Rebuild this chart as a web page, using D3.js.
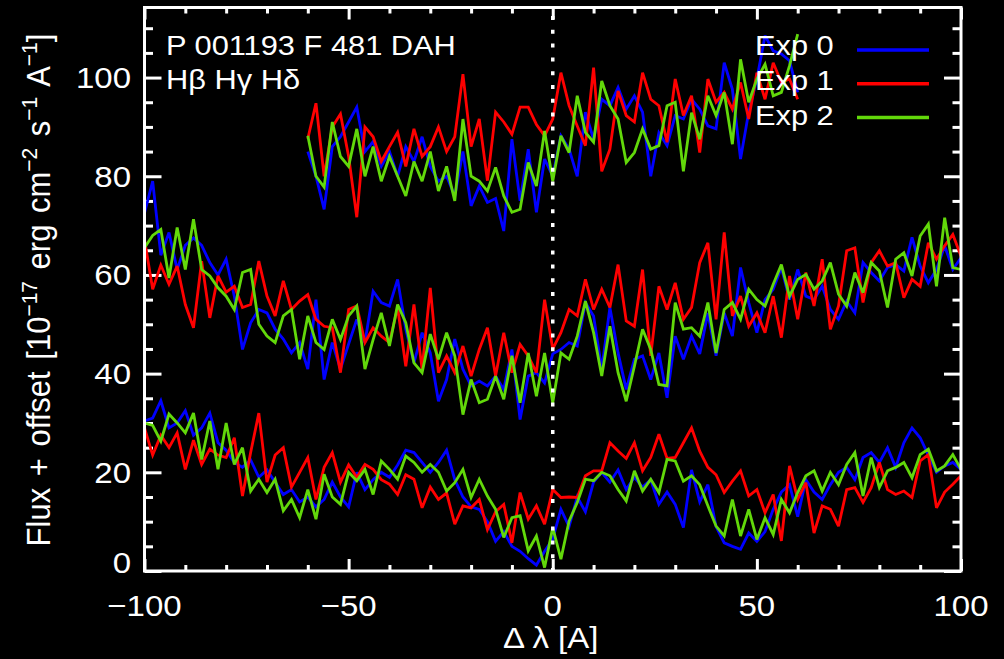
<!DOCTYPE html>
<html>
<head>
<meta charset="utf-8">
<script src="https://cdn.jsdelivr.net/npm/d3@7"></script>
<style>
  html, body { margin: 0; padding: 0; background: #000; }
  svg { display: block; background: #000; }
  text { font-family: "Liberation Sans", Arial, Helvetica, sans-serif; fill: #fff; }
</style>
</head>
<body>
<svg id="chart"></svg>
<script>
// sampling of the three line windows (delta lambda in A)
const dlamFull = d3.range(-100, 101, 2);
const dlamHb = d3.range(-60, 61, 2);

// H delta window (bottom), flux + offset, one array per exposure
const hdelta0 = [30.4, 31, 34.5, 29, 30, 32.5, 27.5, 29, 32, 26,
  24.5, 22, 21, 22.5, 19, 20.5, 18, 15.5, 16.5, 14,
  15, 13, 14.5, 18, 15, 13, 20, 16.5, 18.5, 20,
  19, 21.5, 24.5, 24, 22, 20, 22, 24.5, 18.5, 15,
  13, 12.5, 10, 6, 8, 5, 4, 2.5, 1.2, 4,
  6.5, 12.5, 9, 15, 12, 18, 20, 18, 20.5, 16.5,
  19, 17, 18.5, 13.5, 16, 13.5, 8.8, 20.5, 14, 17.5,
  9, 5.7, 5, 4.4, 7.7, 6, 8, 12.5, 16, 17.5,
  11, 18.5, 16, 14.5, 17.5, 20, 21, 18.5, 23, 24,
  22, 25, 21, 26, 29, 27, 23.5, 20, 21.3, 22,
  20.6];
const hdelta1 = [29, 23.5, 27.5, 25, 28, 20.6, 26.5, 21.6, 24.7, 23.5,
  23, 27, 15.2, 24, 32, 18, 23.5, 25, 17, 20,
  23, 14.5, 21, 24, 18, 21.5, 19, 21.6, 20.6, 18.5,
  17.6, 15.5, 19.5, 18.6, 12.8, 17, 14.5, 15.8, 9.5, 13.2,
  12.8, 14.5, 8.4, 12, 13.5, 5.7, 15.9, 10.5, 13.2, 9.5,
  16.5, 14.9, 15, 14.9, 19.3, 20.3, 20.3, 26, 24.3, 22.8,
  26, 20.3, 23, 27.7, 22.8, 23, 26, 29, 24.3, 21,
  19.5, 15.9, 18.2, 20.3, 15.2, 16.5, 11.8, 15.5, 6.1, 21.3,
  14.5, 17.9, 7.7, 13.2, 12.5, 9.1, 16.5, 16.9, 13.9, 16.9,
  22, 16.5, 15.5, 16.2, 14.9, 22.3, 23.6, 12.8, 16, 17.6,
  19.3];
const hdelta2 = [30, 29.5, 26.3, 31.8, 30, 28, 32, 22.6, 30.4, 20.6,
  30, 21.6, 25, 16.2, 18.6, 15.9, 18.6, 12.2, 14.5, 10.8,
  16.5, 10.5, 19.6, 15, 13.5, 20, 18.3, 20.6, 15.5, 22.3,
  20.6, 18.6, 23.3, 22, 20, 21.6, 20, 16.2, 17.9, 20.6,
  14.9, 18.6, 15.2, 12.5, 6.8, 10.8, 11.2, 4.1, 7.1, 0.7,
  8.8, 2.4, 10.1, 13.9, 18.6, 18.3, 20, 19.3, 16.5, 14.2,
  20.3, 16.2, 18.6, 15.9, 22.6, 22.3, 18.2, 19.3, 17.5, 13.2,
  9.1, 7.1, 14.5, 7.1, 12.5, 6.4, 10.8, 7.4, 14.5, 11.8,
  15.9, 19.3, 20.3, 16.2, 20, 17.5, 21.6, 24, 15.2, 23,
  16.9, 20.3, 21, 22, 18.9, 23.6, 24.7, 20.3, 21.3, 23.6,
  20.6];

// H gamma window (middle)
const hgamma0 = [72.5, 79, 64, 68.6, 61.1, 66, 67.5, 66, 62.5, 60,
  63.2, 55.7, 44.9, 50.3, 53, 52.3, 49, 47, 44.2, 46.3,
  40.9, 55, 38.8, 46.3, 40.9, 46, 51, 46.3, 56.7, 54.4,
  53.7, 59.1, 49, 42.2, 48.3, 44.2, 34.4, 38.8, 47, 40.9,
  37.5, 38.5, 37.5, 39.5, 36.8, 44.9, 30.7, 39.5, 40.2, 38.1,
  44, 44.9, 46.3, 45.6, 54.4, 51.7, 40.9, 53.4, 44.2, 36.8,
  42.9, 43.6, 38.8, 44.2, 35.1, 47.6, 42.9, 47.6, 44, 52.3,
  43.6, 52.3, 47.6, 61.5, 54.4, 48.3, 55, 57.1, 61.5, 55,
  61.1, 55.7, 55, 57.7, 53, 51, 54.7, 52.3, 62.5, 60.5,
  58.8, 61.5, 62.1, 60.8, 67.6, 61.8, 58.4, 61.1, 65.9, 61.1,
  63.5];
const hgamma1 = [67.2, 57.1, 62, 58.1, 61.8, 54, 49.3, 62.8, 51.3, 59.8,
  56.5, 57.7, 53.4, 54, 62.8, 55.7, 51.7, 58.8, 53, 54.7,
  56, 51, 49.6, 49.3, 40.2, 53, 53.7, 46.3, 49.3, 47.6,
  46.3, 53.4, 41.5, 54, 40.9, 57.4, 40.2, 43.6, 40.2, 45.6,
  39.5, 44.9, 49.3, 39.5, 48.3, 40.2, 45.9, 43.6, 40.2, 55,
  45, 48.3, 53, 51.7, 59.1, 53, 57.1, 53.4, 62.1, 50.7,
  49.6, 61.1, 43.6, 57.7, 53, 58.4, 51, 53.4, 62.5, 66.5,
  51, 68.6, 51.7, 55.7, 49.6, 52.3, 48.3, 55.7, 47.3, 59.8,
  51, 60.5, 53.7, 63.2, 49, 53.7, 64.9, 65.5, 54.4, 62.5,
  64.9, 61.8, 62.5, 55.4, 59.1, 57.7, 66.5, 63.2, 65.9, 68.2,
  63.8];
const hgamma2 = [65.5, 68, 69.2, 59.4, 69.6, 61.1, 71.3, 61.1, 59.8, 57.4,
  55.7, 53, 60.5, 61.1, 50, 47.6, 46.3, 51.7, 53, 42.9,
  51.7, 46.3, 44.9, 51, 46.9, 51.7, 53.7, 40.9, 46.9, 52.3,
  45.6, 54, 50.3, 42.2, 40.2, 48, 42.9, 48.3, 43.6, 31.7,
  38.8, 34.1, 34.8, 39.5, 34.8, 43.6, 34.1, 44.2, 35.4, 44.2,
  34.1, 44.2, 42.9, 47.6, 54.7, 48.3, 39.5, 49.6, 40.2, 34.4,
  41.5, 49, 44.9, 37.8, 37.5, 54.4, 49, 49.3, 47.6, 54.4,
  44.2, 53, 54.4, 51, 57.1, 55, 53.7, 58.1, 62.1, 55.7,
  59.1, 60.1, 57.1, 58.8, 62.5, 56.1, 53.7, 60.5, 56.4, 62.5,
  60.8, 53.4, 63.2, 64.5, 59.8, 67.9, 70.3, 57.7, 71.6, 61.5,
  61.1];

// H beta window (top, narrower)
const hbeta0 = [85, 80, 73.3, 86, 88, 91, 94, 85, 87, 82,
  85, 80, 86, 83, 88, 82, 79, 80, 76, 85, 74,
  78, 74.7, 75.5, 68.9, 87.5, 75, 85.5, 72.7, 83.5, 80,
  88.2, 85.5, 80, 93, 87.5, 95.6, 94.3, 98, 93.6, 96.3,
  93, 80, 88.8, 86.2, 92.3, 91.6, 95.6, 93.6, 90.2, 89.6,
  103, 97.6, 83.5, 93, 99.7, 108.5, 105.4, 104.8, 103.4, 97];
const hbeta1 = [87.6, 94.8, 80, 90, 92.6, 84, 71.7, 90, 88, 83,
  86, 88.9, 82, 89.6, 84, 86, 90, 85, 88, 100.7, 86,
  91.6, 79.1, 93, 91, 88.5, 94, 94, 90.5, 88.2, 91.6,
  101, 94.3, 90.2, 86.2, 102, 81, 85.5, 97.3, 92.3, 91,
  101, 95.6, 94.3, 86.9, 99.7, 92.3, 96.3, 84.8, 99.7, 95,
  97, 93.6, 99, 91.6, 101, 95.6, 103, 99, 99.7, 95.6];
const hbeta2 = [88.2, 80, 77.8, 91, 84, 82, 89.6, 80, 86, 79,
  84, 80, 76, 83, 79, 85, 77, 82, 75, 91.6, 80,
  79, 77, 81.8, 76, 72.7, 73.3, 82.8, 78, 89.2, 79,
  88.2, 84.8, 96.3, 88.9, 86.9, 99.3, 94.3, 91.6, 82.8, 84.8,
  89.6, 85.5, 86.2, 94.3, 95, 81, 92.9, 87.5, 96.3, 92.3,
  97, 86.5, 103.7, 95, 99.7, 102.7, 96.3, 97, 102.4, 108.8];

const expNames = ['Exp 0', 'Exp 1', 'Exp 2'];
const expColours = ['#0000ff', '#ff0000', '#62d80a'];
const xMajorTicks = [-100, -50, 0, 50, 100];
const yMajorTicks = [0, 20, 40, 60, 80, 100];
const titleLines = ['P 001193 F 481 DAH', 'H\u03b2 H\u03b3 H\u03b4'];

// glyphs in the original are drawn a bit wider than tall
const SX = 1.1;

class SpectrumPlot {

  constructor(_config) {
    this.config = {
      parentElement: _config.parentElement,
      containerWidth: 1004,
      containerHeight: 659,
      margin: { top: 7.5, right: 43, bottom: 88, left: 144.5 },
      xDomain: [-100, 100],
      yDomain: [0, 114.2]
    };
    this.initVis();
  }

  initVis() {
    let vis = this;

    vis.config.width = vis.config.containerWidth - vis.config.margin.left - vis.config.margin.right;
    vis.config.height = vis.config.containerHeight - vis.config.margin.top - vis.config.margin.bottom;

    vis.svg = d3.select(vis.config.parentElement)
      .attr('width', vis.config.containerWidth)
      .attr('height', vis.config.containerHeight);

    vis.chart = vis.svg.append('g')
      .attr('transform', `translate(${vis.config.margin.left},${vis.config.margin.top})`);

    vis.xScale = d3.scaleLinear().domain(vis.config.xDomain).range([0, vis.config.width]);
    vis.yScale = d3.scaleLinear().domain(vis.config.yDomain).range([vis.config.height, 0]);

    vis.exposures = [
      { segments: [[dlamFull, hdelta0], [dlamFull, hgamma0], [dlamHb, hbeta0]] },
      { segments: [[dlamFull, hdelta1], [dlamFull, hgamma1], [dlamHb, hbeta1]] },
      { segments: [[dlamFull, hdelta2], [dlamFull, hgamma2], [dlamHb, hbeta2]] }
    ];
    vis.exposures.forEach((e, i) => {
      e.name = expNames[i];
      e.colour = expColours[i];
    });
  }

  // text that is stretched horizontally like the original glyphs
  label(parent, x, y, str, anchor, size) {
    return parent.append('text')
      .attr('transform', `translate(${x},${y}) scale(${SX},1)`)
      .attr('text-anchor', anchor)
      .style('font-size', size + 'px')
      .text(str);
  }

  drawAxis(axis, tx, ty) {
    let vis = this;
    vis.chart.append('g')
      .attr('transform', `translate(${tx},${ty})`)
      .call(axis)
      .call(g => g.select('.domain').remove())
      .call(g => g.selectAll('line').attr('stroke', '#fff').attr('stroke-width', 3));
  }

  renderVis() {
    let vis = this;
    const w = vis.config.width, h = vis.config.height;

    const yMinor = d3.range(5, 114, 5).filter(v => v % 20 !== 0);
    const xMinor = d3.range(-90, 100, 10).filter(v => v % 50 !== 0);

    // ticks on all four sides, pointing into the plot
    const mk = (fn, scale, vals, len) => fn(scale).tickValues(vals).tickSizeInner(-len).tickSizeOuter(0).tickFormat('');
    vis.drawAxis(mk(d3.axisLeft, vis.yScale, yMajorTicks, 17), 0, 0);
    vis.drawAxis(mk(d3.axisLeft, vis.yScale, yMinor, 8.5), 0, 0);
    vis.drawAxis(mk(d3.axisRight, vis.yScale, yMajorTicks, 17), w, 0);
    vis.drawAxis(mk(d3.axisRight, vis.yScale, yMinor, 8.5), w, 0);
    vis.drawAxis(mk(d3.axisBottom, vis.xScale, xMajorTicks, 12), 0, h);
    vis.drawAxis(mk(d3.axisBottom, vis.xScale, xMinor, 6), 0, h);
    vis.drawAxis(mk(d3.axisTop, vis.xScale, xMajorTicks, 12), 0, 0);
    vis.drawAxis(mk(d3.axisTop, vis.xScale, xMinor, 6), 0, 0);

    // tick labels
    const fmt = d3.format('d');
    xMajorTicks.forEach(v => vis.label(vis.chart, vis.xScale(v), h + 45, fmt(v), 'middle', 30));
    yMajorTicks.forEach(v => {
      // the zero label sits a little higher, clear of the x axis
      const dy = v === 0 ? 1.5 : 10.5;
      vis.label(vis.chart, -13.5, vis.yScale(v) + dy, fmt(v), 'end', 30);
    });

    // axis titles
    vis.label(vis.chart, vis.xScale(0) - 2, h + 77, '\u0394 \u03bb [A]', 'middle', 30);

    const yt = vis.svg.append('text')
      .attr('transform', `translate(50,290) scale(1.08,1) rotate(-90)`)
      .attr('text-anchor', 'middle')
      .style('font-size', '31px')
      .style('word-spacing', '3px');
    const parts = [['Flux + offset [10', 0], ['\u221217', 1], [' erg cm', 0], ['\u22122', 1],
      [' s', 0], ['\u22121', 1], [' A', 0], ['\u22121', 1], [']', 0]];
    let up = false;
    parts.forEach(([s, sup]) => {
      const t = yt.append('tspan').text(s);
      if (sup) {
        t.attr('dy', -12).style('font-size', '21px');
        up = true;
      } else if (up) {
        t.attr('dy', 12);
        up = false;
      }
    });

    // star identification and lines
    titleLines.forEach((s, i) => vis.label(vis.svg, 166, 55 + i * 34, s, 'start', 28));

    // legend
    vis.exposures.forEach((e, i) => {
      vis.label(vis.svg, 755, 55 + i * 34.8, e.name, 'start', 28);
      vis.svg.append('line')
        .attr('x1', 857).attr('x2', 929)
        .attr('y1', 50 + i * 33.8).attr('y2', 50 + i * 33.8)
        .attr('stroke', e.colour)
        .attr('stroke-width', 3.5);
    });

    // spectra
    const line = d3.line()
      .x(d => vis.xScale(d[0]))
      .y(d => vis.yScale(d[1]));

    vis.chart.selectAll('.exposure')
      .data(vis.exposures)
      .join('g')
      .attr('class', 'exposure')
      .each(function (e) {
        d3.select(this).selectAll('path')
          .data(e.segments.map(([xs, ys]) => xs.map((x, k) => [x, ys[k]])))
          .join('path')
          .attr('d', line)
          .attr('fill', 'none')
          .attr('stroke', e.colour)
          .attr('stroke-width', 2.8)
          .attr('stroke-linejoin', 'miter')
          .attr('stroke-miterlimit', 3);
      });

    // line centre
    vis.chart.append('line')
      .attr('x1', vis.xScale(0)).attr('x2', vis.xScale(0))
      .attr('y1', 0).attr('y2', h)
      .attr('stroke', '#fff')
      .attr('stroke-width', 3.5)
      .attr('stroke-dasharray', '4,9.8')
      .attr('stroke-dashoffset', 5.3);

    // frame
    vis.chart.append('rect')
      .attr('width', w).attr('height', h)
      .attr('fill', 'none')
      .attr('stroke', '#fff')
      .attr('stroke-width', 3);
  }
}

const plot = new SpectrumPlot({ parentElement: '#chart' });
plot.renderVis();
</script>
</body>
</html>
